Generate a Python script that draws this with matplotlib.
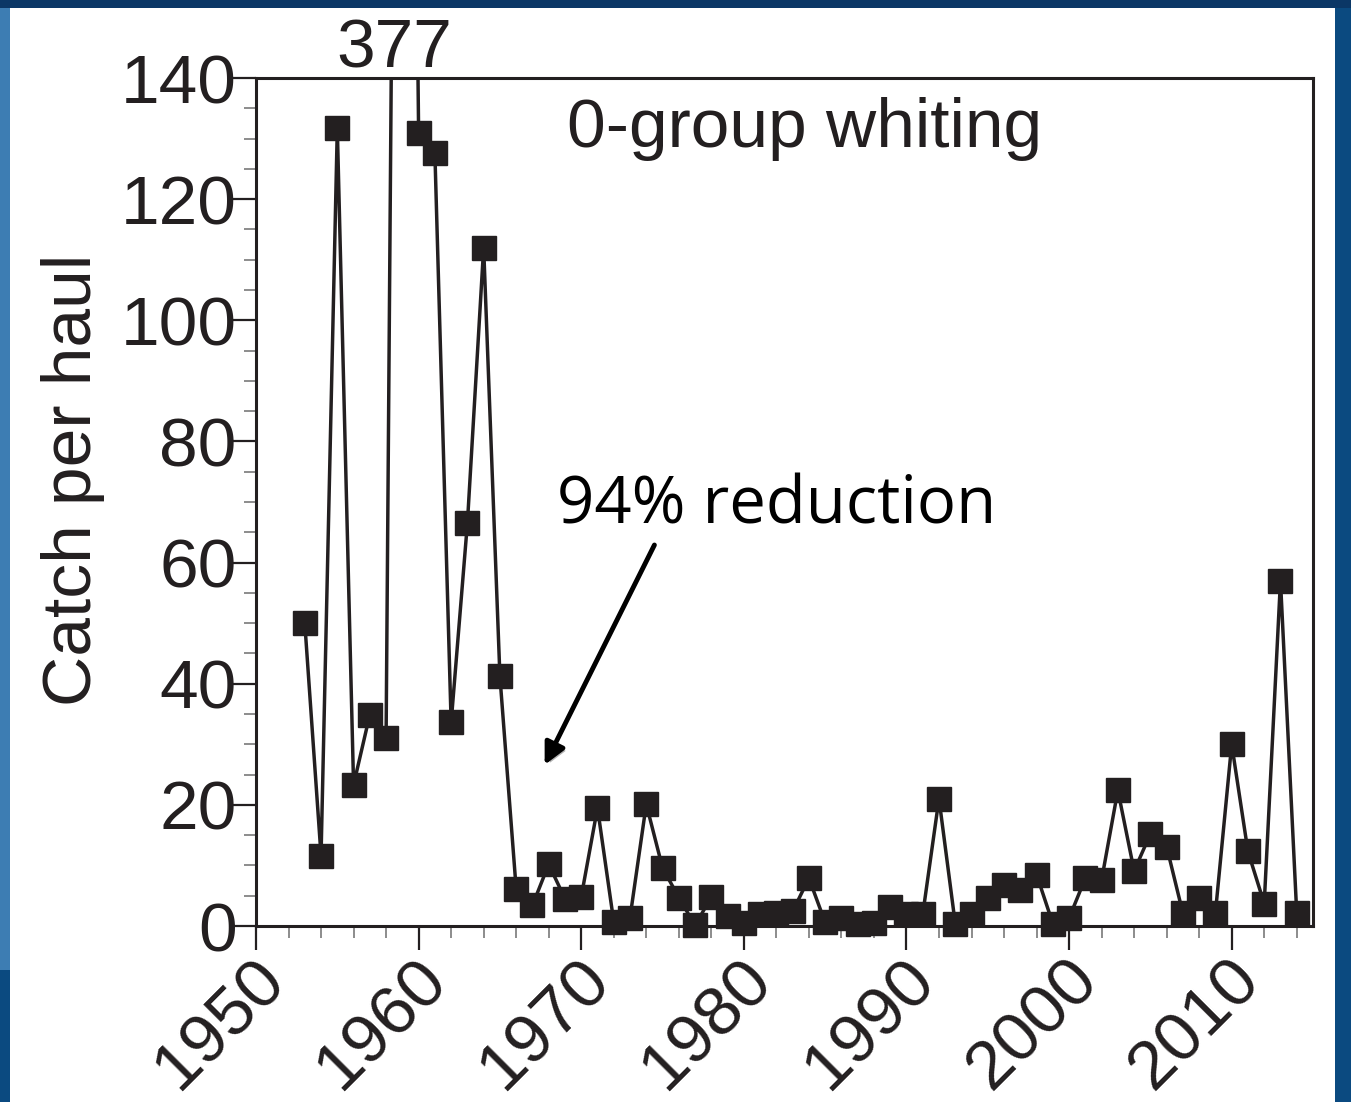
import matplotlib
matplotlib.use("Agg")
import matplotlib.pyplot as plt
from matplotlib.patches import Rectangle
from matplotlib.ticker import MultipleLocator
from matplotlib.transforms import ScaledTranslation
import matplotlib.patheffects as pe

plt.rcParams['font.family'] = ['Liberation Sans', 'DejaVu Sans']

# 0-group whiting, catch per haul by year (1959 is off the scale at 377)
years = list(range(1953, 2015))
catch = [
    50, 11.6, 131.7, 23.3, 34.9, 31.1, 377,                 # 1953-1959
    130.9, 127.6, 33.6, 66.5, 112, 41.2, 6.1, 3.4, 10.2, 4.5,  # 1960-1969
    4.8, 19.5, 0.7, 1.4, 20.1, 9.6, 4.7, 0.1, 4.8, 1.7,      # 1970-1979
    0.5, 2.0, 2.1, 2.4, 7.9, 0.6, 1.3, 0.3, 0.5, 3.2,        # 1980-1989
    1.9, 1.9, 21, 0.4, 1.9, 4.7, 6.8, 5.9, 8.5, 0.4,         # 1990-1999
    1.3, 7.9, 7.6, 22.4, 9.1, 15.2, 13.1, 2.1, 4.7, 2.2,     # 2000-2009
    30, 12.3, 3.7, 57, 2.1,                                  # 2010-2014
]
x_ticks = [1950, 1960, 1970, 1980, 1990, 2000, 2010]
y_ticks = [0, 20, 40, 60, 80, 100, 120, 140]

ink = '#231f20'

fig = plt.figure(figsize=(13.51, 11.02), dpi=100)
fig.patch.set_facecolor('#0b4a80')
# slide background: blue border, lighter on the left, white inside
fig.patches.append(Rectangle((0, 0.12), 10 / 1351, 0.88, transform=fig.transFigure,
                             facecolor='#3d7db3', edgecolor='none', zorder=-3))
fig.patches.append(Rectangle((0, 1 - 8 / 1102), 1, 8 / 1102, transform=fig.transFigure,
                             facecolor='#0b3766', edgecolor='none', zorder=-2))
fig.patches.append(Rectangle((10 / 1351, 0), (1335 - 10) / 1351, (1102 - 8) / 1102,
                             transform=fig.transFigure, facecolor='white',
                             edgecolor='none', zorder=-1))

ax = fig.add_axes([256 / 1351, 176 / 1102, (1313 - 256) / 1351, (926 - 78) / 1102])
ax.set_facecolor('white')

ax.plot(years, catch, color=ink, lw=2.5, zorder=3)
ax.plot(years, catch, linestyle='none', marker='s', ms=17.5, color=ink,
        clip_on=False, zorder=4)

ax.set_xlim(1950, 2015)
ax.set_ylim(0, 140)
ax.set_xticks(x_ticks)
ax.set_yticks(y_ticks)
ax.xaxis.set_minor_locator(MultipleLocator(2))
ax.yaxis.set_minor_locator(MultipleLocator(5))

for s in ax.spines.values():
    s.set_linewidth(2.2)
    s.set_color(ink)

ax.tick_params(which='major', direction='out', length=17, width=1.6, color=ink,
               labelsize=50, labelcolor=ink)
ax.tick_params(axis='y', which='major', pad=-3)
ax.tick_params(axis='x', which='major', pad=3)
ax.tick_params(which='minor', direction='out', length=8.5, width=1.1, color='#6d6d6d')
ax.tick_params(top=False, right=False, which='both')

shift = ScaledTranslation(-0.04, 0.07, fig.dpi_scale_trans)
for lab in ax.get_xticklabels():
    lab.set_rotation(45)
    lab.set_ha('right')
    lab.set_va('top')
    lab.set_rotation_mode('anchor')
    lab.set_transform(lab.get_transform() + shift)

ax.set_ylabel('Catch per haul', fontsize=50, color=ink)
ax.yaxis.set_label_coords(-0.143, 0.526)

ax.text(1958.5, 141.7, '377', fontsize=50, color=ink, ha='center', va='baseline',
        clip_on=False)
ax.text(1969.1, 128.6, '0-group whiting', fontsize=50, color=ink, ha='left',
        va='baseline')
ax.text(1968.5, 66.5, '94% reduction', fontsize=47, family=['Open Sans', 'DejaVu Sans'],
        color='black', ha='left', va='baseline')

ax.annotate('', xy=(1967.75, 26.6), xytext=(1974.5, 62.9),
            arrowprops=dict(arrowstyle='-|>', lw=3.5, color='black', mutation_scale=32,
                            shrinkA=0, shrinkB=0,
                            path_effects=[pe.SimplePatchShadow(offset=(2, -2), alpha=0.3),
                                          pe.Normal()]))

fig.savefig('out.png', dpi=100, facecolor=fig.get_facecolor())
